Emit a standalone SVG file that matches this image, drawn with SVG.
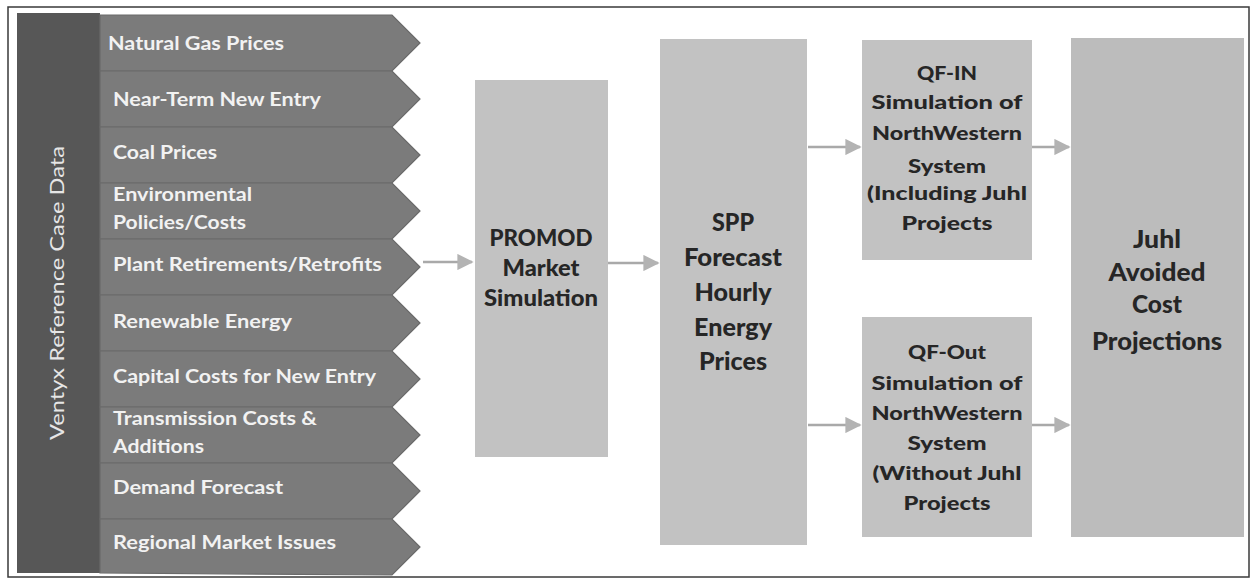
<svg xmlns="http://www.w3.org/2000/svg" width="1252" height="580" viewBox="0 0 1252 580">
  <style>
    .frame { fill: #ffffff; stroke: #3a3a3a; stroke-width: 1.5; }
    .bar { fill: #575757; }
    .chev { fill: #7b7b7b; stroke: #6a6a6a; stroke-width: 1.2; }
    .chev-text { font-family: Lato, "Liberation Sans", sans-serif; font-weight: bold; font-size: 19px; fill: #f2f2f2; }
    .bar-text { font-family: Lato, "Liberation Sans", sans-serif; font-size: 20px; fill: #e6e6e6; }
    .box { fill: #c2c2c2; }
    .box-dark { fill: #bcbcbc; }
    .label { font-family: Lato, "Liberation Sans", sans-serif; font-weight: 900; fill: #262626; text-anchor: middle; }
    .lg { font-size: 24px; }
    .pr { font-size: 22px; }
    .md { font-size: 19.5px; }
    .conn { stroke: #a9a9a9; stroke-width: 2.5; fill: none; marker-end: url(#head); }
  </style>
  <defs>
    <marker id="head" viewBox="0 0 10 10" refX="9" refY="5" markerWidth="6.5" markerHeight="6.5" orient="auto" markerUnits="strokeWidth">
      <path d="M0,0 L10,5 L0,10 Z" fill="#b3b3b3"/>
    </marker>
  </defs>

  <rect class="frame" x="8" y="7" width="1241" height="570"/>

  <!-- input bar with stacked chevrons -->
  <g id="inputs">
    <rect class="bar" x="17" y="13" width="83" height="560"/>
    <text class="bar-text" transform="translate(64,293) rotate(-90)" text-anchor="middle" textLength="294" lengthAdjust="spacingAndGlyphs">Ventyx Reference Case Data</text>
  </g>
  <g id="chev-gas">
    <polygon class="chev" points="100,15 392,15 420,43 392,71 100,71"/>
    <text class="chev-text" x="108" y="50" textLength="176" lengthAdjust="spacingAndGlyphs">Natural Gas Prices</text>
  </g>
  <g id="chev-entry">
    <polygon class="chev" points="100,71 392,71 420,99 392,127 100,127"/>
    <text class="chev-text" x="113" y="106" textLength="208" lengthAdjust="spacingAndGlyphs">Near-Term New Entry</text>
  </g>
  <g id="chev-coal">
    <polygon class="chev" points="100,127 392,127 420,155 392,183 100,183"/>
    <text class="chev-text" x="113" y="159" textLength="104" lengthAdjust="spacingAndGlyphs">Coal Prices</text>
  </g>
  <g id="chev-env">
    <polygon class="chev" points="100,183 392,183 420,211 392,239 100,239"/>
    <text class="chev-text" x="113" y="201" textLength="139" lengthAdjust="spacingAndGlyphs">Environmental</text>
    <text class="chev-text" x="113" y="229" textLength="133" lengthAdjust="spacingAndGlyphs">Policies/Costs</text>
  </g>
  <g id="chev-plant">
    <polygon class="chev" points="100,239 392,239 420,267 392,295 100,295"/>
    <text class="chev-text" x="113" y="271" textLength="269" lengthAdjust="spacingAndGlyphs">Plant Retirements/Retrofits</text>
  </g>
  <g id="chev-renew">
    <polygon class="chev" points="100,295 392,295 420,323 392,351 100,351"/>
    <text class="chev-text" x="113" y="328" textLength="179" lengthAdjust="spacingAndGlyphs">Renewable Energy</text>
  </g>
  <g id="chev-capital">
    <polygon class="chev" points="100,351 392,351 420,379 392,407 100,407"/>
    <text class="chev-text" x="113" y="383" textLength="263" lengthAdjust="spacingAndGlyphs">Capital Costs for New Entry</text>
  </g>
  <g id="chev-trans">
    <polygon class="chev" points="100,407 392,407 420,435 392,463 100,463"/>
    <text class="chev-text" x="113" y="425" textLength="204" lengthAdjust="spacingAndGlyphs">Transmission Costs &amp;</text>
    <text class="chev-text" x="113" y="453" textLength="91" lengthAdjust="spacingAndGlyphs">Additions</text>
  </g>
  <g id="chev-demand">
    <polygon class="chev" points="100,463 392,463 420,491 392,519 100,519"/>
    <text class="chev-text" x="113" y="494" textLength="170" lengthAdjust="spacingAndGlyphs">Demand Forecast</text>
  </g>
  <g id="chev-regional">
    <polygon class="chev" points="100,519 392,519 420,547 392,575 100,573"/>
    <text class="chev-text" x="113" y="549" textLength="223" lengthAdjust="spacingAndGlyphs">Regional Market Issues</text>
  </g>

  <!-- process boxes -->
  <g id="promod">
    <rect class="box" x="475" y="80" width="133" height="377"/>
    <text class="label pr" x="541" y="246" textLength="103" lengthAdjust="spacingAndGlyphs">PROMOD</text>
    <text class="label pr" x="541" y="276" textLength="77" lengthAdjust="spacingAndGlyphs">Market</text>
    <text class="label pr" x="541" y="306" textLength="114" lengthAdjust="spacingAndGlyphs">Simulation</text>
  </g>
  <g id="spp">
    <rect class="box" x="660" y="39" width="147" height="506"/>
    <text class="label lg" x="733" y="231" textLength="42" lengthAdjust="spacingAndGlyphs">SPP</text>
    <text class="label lg" x="733" y="266" textLength="98" lengthAdjust="spacingAndGlyphs">Forecast</text>
    <text class="label lg" x="733" y="301" textLength="77" lengthAdjust="spacingAndGlyphs">Hourly</text>
    <text class="label lg" x="733" y="336" textLength="78" lengthAdjust="spacingAndGlyphs">Energy</text>
    <text class="label lg" x="733" y="370" textLength="68" lengthAdjust="spacingAndGlyphs">Prices</text>
  </g>
  <g id="qf-in">
    <rect class="box" x="862" y="40" width="170" height="220"/>
    <text class="label md" x="947" y="80" textLength="60" lengthAdjust="spacingAndGlyphs">QF-IN</text>
    <text class="label md" x="947" y="109" textLength="151" lengthAdjust="spacingAndGlyphs">Simulation of</text>
    <text class="label md" x="947" y="140" textLength="150" lengthAdjust="spacingAndGlyphs">NorthWestern</text>
    <text class="label md" x="947" y="173" textLength="78" lengthAdjust="spacingAndGlyphs">System</text>
    <text class="label md" x="947" y="200" textLength="160" lengthAdjust="spacingAndGlyphs">(Including Juhl</text>
    <text class="label md" x="947" y="230" textLength="91" lengthAdjust="spacingAndGlyphs">Projects</text>
  </g>
  <g id="qf-out">
    <rect class="box" x="862" y="317" width="170" height="220"/>
    <text class="label md" x="947" y="359" textLength="78" lengthAdjust="spacingAndGlyphs">QF-Out</text>
    <text class="label md" x="947" y="390" textLength="151" lengthAdjust="spacingAndGlyphs">Simulation of</text>
    <text class="label md" x="947" y="420" textLength="151" lengthAdjust="spacingAndGlyphs">NorthWestern</text>
    <text class="label md" x="947" y="450" textLength="79" lengthAdjust="spacingAndGlyphs">System</text>
    <text class="label md" x="947" y="480" textLength="149" lengthAdjust="spacingAndGlyphs">(Without Juhl</text>
    <text class="label md" x="947" y="510" textLength="87" lengthAdjust="spacingAndGlyphs">Projects</text>
  </g>
  <g id="juhl">
    <rect class="box-dark" x="1071" y="38" width="173" height="499"/>
    <text class="label lg" x="1157" y="248" textLength="48" lengthAdjust="spacingAndGlyphs">Juhl</text>
    <text class="label lg" x="1157" y="281" textLength="97" lengthAdjust="spacingAndGlyphs">Avoided</text>
    <text class="label lg" x="1157" y="313" textLength="50" lengthAdjust="spacingAndGlyphs">Cost</text>
    <text class="label lg" x="1157" y="350" textLength="130" lengthAdjust="spacingAndGlyphs">Projections</text>
  </g>

  <!-- connectors -->
  <g id="connectors">
    <line class="conn" x1="423" y1="262" x2="472" y2="262"/>
    <line class="conn" x1="608" y1="263" x2="658" y2="263"/>
    <line class="conn" x1="808" y1="147" x2="860" y2="147"/>
    <line class="conn" x1="808" y1="425" x2="860" y2="425"/>
    <line class="conn" x1="1032" y1="147" x2="1069" y2="147"/>
    <line class="conn" x1="1032" y1="425" x2="1069" y2="425"/>
  </g>
</svg>
